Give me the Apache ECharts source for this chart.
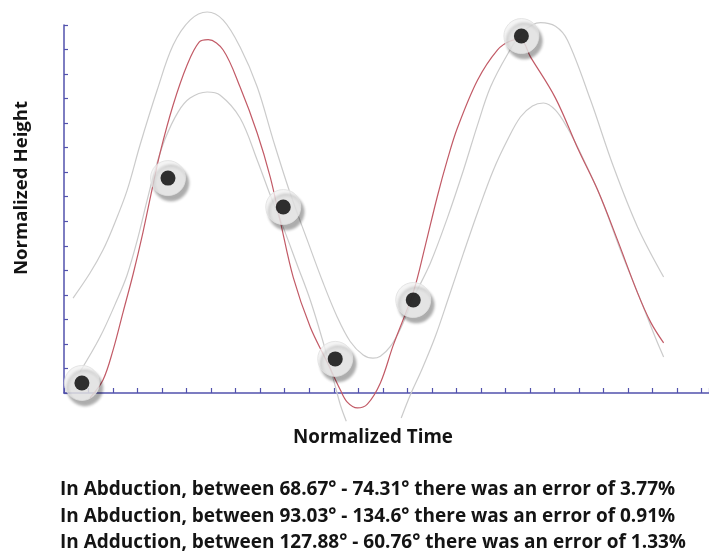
<!DOCTYPE html>
<html>
<head>
<meta charset="utf-8">
<script src="https://cdn.jsdelivr.net/npm/echarts@6/dist/echarts.min.js"></script>
<style>
html,body{margin:0;padding:0;background:#fff;}
#chart{width:709px;height:559px;}
</style>
</head>
<body>
<div id="chart"></div>
<script>
// ---- data (normalized time, normalized height) ----
var redCurve = [
  [1.06,-0.20],[1.59,0.53],[2.00,1.75],[2.41,3.30],[2.82,4.85],[3.22,6.55],[3.59,8.30],[3.92,9.80],
  [4.45,11.74],[5.02,13.37],[5.51,14.30],[5.88,14.40],[6.49,13.98],[7.18,12.47],[7.88,10.59],
  [8.41,8.80],[8.82,7.00],[9.35,4.70],[10.04,2.69],[10.73,1.26],[11.27,0.12],[11.55,-0.37],
  [11.96,-0.61],[12.37,-0.45],[12.90,0.41],[13.43,1.96],[14.24,4.10],[14.73,6.00],[15.22,8.00],
  [15.63,9.50],[16.04,10.80],[16.86,12.75],[17.67,13.98],[18.20,14.35],[18.61,14.40],[19.02,13.70],
  [20.04,12.02],[20.98,9.90],[21.76,8.27],[22.57,6.23],[23.39,4.07],[23.92,2.89],[24.45,2.04]
];
var upperBand = [
  [0.37,3.87],[1.06,4.89],[1.59,5.83],[2.00,6.76],[2.57,8.25],[3.10,10.11],[3.80,12.35],[4.45,14.18],
  [5.14,15.20],[5.84,15.53],[6.49,15.20],[7.18,14.10],[7.88,12.47],[8.53,10.31],[9.22,8.15],
  [9.92,6.23],[10.57,4.48],[11.14,3.10],[11.67,2.10],[12.20,1.55],[12.60,1.42],[12.90,1.50],[13.31,1.90],
  [13.71,2.60],[14.24,3.85],[14.94,5.30],[15.63,7.13],[16.29,9.09],[16.86,10.92],[17.39,12.47],
  [18.08,13.80],[18.69,14.70],[19.43,15.10],[20.04,14.95],[20.53,14.38],[21.47,11.94],
  [22.41,9.21],[23.39,6.76],[24.45,4.73]
];
var lowerBandA = [
  [0.65,0.86],[1.47,2.28],[2.16,3.79],[2.57,4.80],[2.98,6.20],[3.39,7.86],[3.71,9.09],[4.12,10.35],
  [4.65,11.45],[5.14,12.02],[5.84,12.27],[6.37,12.14],[7.18,11.21],[7.88,9.49],[8.41,8.07],
  [8.94,6.75],[9.51,5.22],[10.04,3.79],[10.53,2.20],[10.94,0.73],[11.27,-0.49],[11.51,-1.15]
];
var lowerBandB = [
  [13.75,-1.02],[14.12,-0.08],[14.61,1.00],[15.14,2.30],[15.67,3.85],[16.29,5.70],[16.90,7.46],
  [17.51,9.09],[18.08,10.31],[18.61,11.25],[19.10,11.70],[19.55,11.82],[20.04,11.53],[20.53,10.80],
  [21.06,9.78],[21.88,7.99],[22.69,5.83],[23.51,3.79],[24.12,2.24],[24.45,1.47]
];
var markerPoints = [
  [0.73,0.41],[4.24,8.76],[8.94,7.58],[11.06,1.39],[14.24,3.79],[18.65,14.55]
];
var xAxisTitle = 'Normalized Time';
var yAxisTitle = 'Normalized Height';
var notes = [
  'In Abduction, between 68.67\u00b0 - 74.31\u00b0 there was an error of 3.77%',
  'In Abduction, between 93.03\u00b0 - 134.6\u00b0 there was an error of 0.91%',
  'In Adduction, between 127.88\u00b0 - 60.76\u00b0 there was an error of 1.33%'
];

var axisColor = '#5252ad';
var grayColor = '#cbcbcb';
var redColor = '#c25a66';
var fontFam = '"Open Sans", Lato, sans-serif';

var chart = echarts.init(document.getElementById('chart'), null, {renderer: 'canvas'});

function lineSeries(data, color, width, z) {
  return {
    type: 'line', data: data, smooth: 0.35, showSymbol: false, clip: false, silent: true,
    lineStyle: {color: color, width: width}, z: z
  };
}

var graphics = [
  {
    type: 'text', x: 22, y: 188, rotation: Math.PI / 2,
    style: {text: yAxisTitle, font: 'bold 18.6px ' + fontFam, fill: '#141414', textAlign: 'center', textVerticalAlign: 'middle'}
  },
  {
    type: 'text', x: 373, y: 438,
    style: {text: xAxisTitle, font: 'bold 18.8px ' + fontFam, fill: '#141414', textAlign: 'center', textVerticalAlign: 'middle'}
  }
];
notes.forEach(function (t, i) {
  graphics.push({
    type: 'text', x: 60, y: 490 + i * 26.5,
    style: {text: t, font: 'bold 19px ' + fontFam, fill: '#141414', textAlign: 'left', textVerticalAlign: 'middle'}
  });
});

chart.setOption({
  animation: false,
  backgroundColor: '#ffffff',
  grid: {left: 64, right: 0, top: 25, bottom: 166, containLabel: false},
  xAxis: {
    type: 'value', min: 0, max: 26.3, interval: 1,
    axisLine: {show: true, onZero: true, lineStyle: {color: axisColor, width: 1.5}},
    axisTick: {show: true, inside: true, length: 5, lineStyle: {color: axisColor, width: 1.2}},
    axisLabel: {show: false}, splitLine: {show: false}
  },
  yAxis: {
    type: 'value', min: 0, max: 15, interval: 1,
    axisLine: {show: true, lineStyle: {color: axisColor, width: 1.5}},
    axisTick: {show: true, inside: true, length: 4, lineStyle: {color: axisColor, width: 1.2}},
    axisLabel: {show: false}, splitLine: {show: false}
  },
  graphic: graphics,
  series: [
    lineSeries(upperBand, grayColor, 1.2, 2),
    lineSeries(lowerBandA, grayColor, 1.2, 2),
    lineSeries(lowerBandB, grayColor, 1.2, 2),
    lineSeries(redCurve, redColor, 1.2, 3),
    {
      type: 'scatter', data: markerPoints, symbol: 'circle', symbolSize: 35, clip: false, silent: true, z: 4,
      itemStyle: {
        color: '#f1f1f1', borderColor: '#e0e0e0', borderWidth: 1,
        shadowColor: 'rgba(0,0,0,0.4)', shadowBlur: 3, shadowOffsetX: 3, shadowOffsetY: 5
      }
    },
    {
      type: 'scatter', data: markerPoints, symbol: 'circle', symbolSize: 15, clip: false, silent: true, z: 5,
      itemStyle: {color: '#000000'}
    }
  ]
});
</script>
</body>
</html>
